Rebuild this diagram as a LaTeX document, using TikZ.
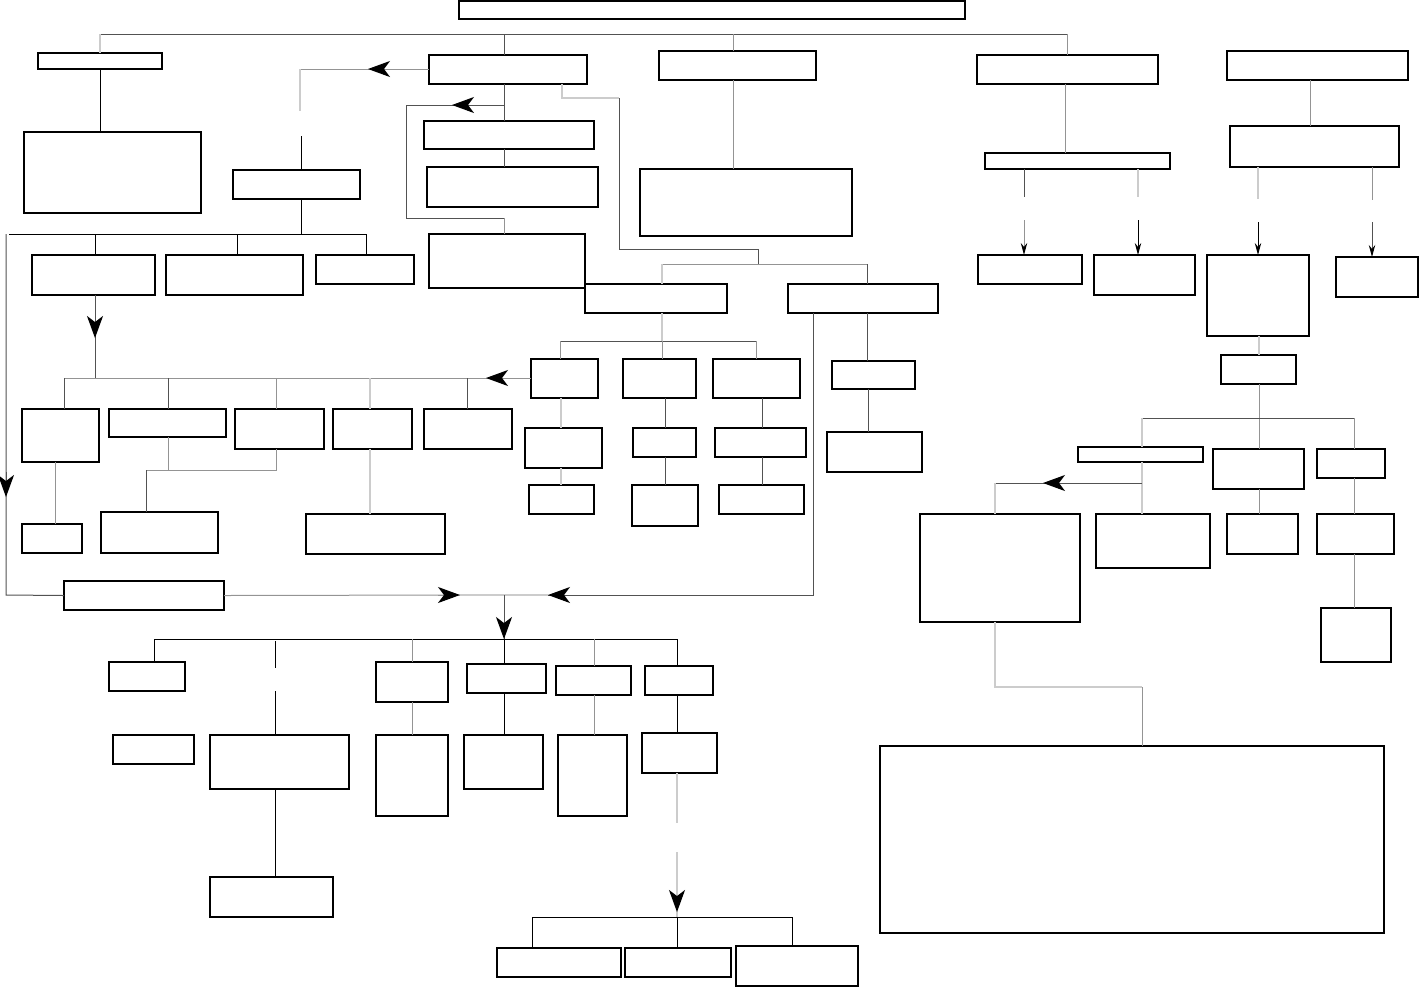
\documentclass[tikz,border=0pt]{standalone}
\usepackage{xcolor}
\usepackage{tikz}
\usetikzlibrary{arrows.meta}

% one empty box, given by its corners in picture units
\newcommand\bx[5]{\node[box, minimum width={(#4-#2)*0.5pt}, minimum height={(#5-#3)*0.5pt}] (#1) at ({(#2+#4)/2},{(#3+#5)/2}) {};}

\begin{document}
\begin{tikzpicture}[x=0.5pt, y=-0.5pt,
  box/.style={draw=black, line width=0.6pt, inner sep=0pt, outer sep=0pt},
  bk/.style={draw=black, line width=0.5pt},
  dk/.style={draw=black!68, line width=0.5pt},
  md/.style={draw=black!42, line width=0.5pt},
  lt/.style={draw=black!20, line width=0.6pt},
  bigarr/.style={-{Stealth[length=11pt,width=8pt,inset=3pt,color=black]}},
  smallarr/.style={-{Stealth[length=6pt,width=3.2pt,color=black]}}]
\useasboundingbox (0,0) rectangle (1419,987);

% boxes
\bx{T}{459}{1}{965}{19}
\bx{A}{38}{53}{162}{69}
\bx{A1}{24}{132}{201}{213}
\bx{B}{429}{55}{587}{84}
\bx{B1}{424}{121}{594}{149}
\bx{B2}{427}{167}{598}{207}
\bx{B3}{429}{234}{585}{288}
\bx{C}{659}{51}{816}{80}
\bx{C1}{640}{169}{852}{236}
\bx{D}{977}{55}{1158}{84}
\bx{D1}{985}{153}{1170}{169}
\bx{D2}{978}{255}{1082}{284}
\bx{D3}{1094}{255}{1195}{295}
\bx{E}{1227}{51}{1408}{80}
\bx{E1}{1230}{126}{1399}{167}
\bx{E2}{1207}{255}{1309}{336}
\bx{E3}{1336}{257}{1418}{297}
\bx{E4}{1221}{355}{1296}{384}
\bx{E5}{1078}{447}{1203}{462}
\bx{E6}{1213}{449}{1304}{489}
\bx{E7}{1317}{449}{1385}{478}
\bx{E5a}{920}{514}{1080}{622}
\bx{E5b}{1096}{514}{1210}{568}
\bx{E6a}{1227}{514}{1298}{554}
\bx{E7a}{1317}{514}{1394}{554}
\bx{E7b}{1321}{608}{1391}{662}
\bx{L}{880}{746}{1384}{933}
\bx{F}{233}{170}{360}{199}
\bx{F1}{32}{255}{155}{295}
\bx{F2}{166}{255}{303}{295}
\bx{F3}{316}{255}{414}{284}
\bx{G1}{585}{284}{727}{313}
\bx{G2}{788}{284}{938}{313}
\bx{H1}{531}{359}{598}{398}
\bx{H2}{623}{359}{696}{398}
\bx{H3}{713}{359}{800}{398}
\bx{H1a}{525}{428}{602}{468}
\bx{H1b}{529}{485}{594}{514}
\bx{H2a}{633}{428}{696}{457}
\bx{H2b}{632}{485}{698}{526}
\bx{H3a}{715}{428}{806}{457}
\bx{H3b}{719}{485}{804}{514}
\bx{G2a}{832}{361}{915}{389}
\bx{G2b}{827}{432}{922}{472}
\bx{I1}{22}{409}{99}{462}
\bx{I2}{109}{409}{226}{437}
\bx{I3}{235}{409}{324}{449}
\bx{I4}{333}{409}{412}{449}
\bx{I5}{424}{409}{512}{449}
\bx{I1a}{22}{524}{82}{553}
\bx{I2a}{101}{512}{218}{553}
\bx{I4a}{306}{514}{445}{554}
\bx{K}{64}{581}{224}{610}
\bx{J1}{109}{662}{185}{691}
\bx{J0}{113}{735}{194}{764}
\bx{J2}{210}{735}{349}{789}
\bx{J2a}{210}{877}{333}{917}
\bx{J3}{376}{662}{448}{702}
\bx{J3a}{376}{735}{448}{816}
\bx{J4}{467}{664}{546}{693}
\bx{J4a}{464}{735}{543}{789}
\bx{J5}{556}{666}{631}{695}
\bx{J5a}{558}{735}{627}{816}
\bx{J6}{645}{666}{713}{695}
\bx{J6a}{642}{733}{717}{773}
\bx{K1}{497}{948}{621}{977}
\bx{K2}{625}{948}{731}{977}
\bx{K3}{736}{946}{858}{986}

% top level
\draw[dk] (A.north |- 0,34) -- (D.north |- 0,34);
\draw[lt] (A.north |- 0,34) -- (A.north);
\draw[dk] (504,34) -- (B.north -| 504,0);
\draw[md] (733,34) -- (C.north -| 733,0);
\draw[md] (D.north |- 0,34) -- (D.north);
\draw[bk] (A.south) -- (A.south |- A1.north);

% left branch of B
\draw[md] (B.west |- 0,69) -- (300,69);
\draw[lt] (300,69) -- (300,111);
\draw[bigarr, md] (392,69) -- (368,69);
\draw[bk] (301,136) -- (F.north -| 301,0);
\draw[bk] (F.south -| 301,0) -- (301,234);
\draw[bk] (9,234) -- (366,234);
\draw[bk] (95,234) -- (F1.north -| 95,0);
\draw[bk] (237,234) -- (F2.north -| 237,0);
\draw[bk] (366,234) -- (F3.north -| 366,0);
\draw[dk] (6,234) -- (6,595) -- (K.west);
\draw[bigarr, dk] (6,472) -- (6,497);
\draw[dk] (F1.south -| 95,0) -- (95,378);
\draw[bigarr, dk] (95,314) -- (95,338);

% row under H1
\draw[md] (H1.west |- 0,378) -- (64,378);
\draw[bigarr, md] (510,378) -- (486,378);
\draw[dk] (64,378) -- (I1.north -| 64,0);
\draw[dk] (168,378) -- (I2.north -| 168,0);
\draw[md] (276,378) -- (I3.north -| 276,0);
\draw[lt] (370,378) -- (I4.north -| 370,0);
\draw[dk] (467,378) -- (I5.north -| 467,0);
\draw[md] (I1.south -| 55,0) -- (I1a.north -| 55,0);
\draw[md] (I2.south -| 168,0) -- (168,470);
\draw[md] (I3.south -| 276,0) -- (276,470) -- (146,470);
\draw[dk] (146,470) -- (I2a.north -| 146,0);
\draw[lt] (I4.south -| 370,0) -- (I4a.north -| 370,0);

% B downwards
\draw[dk] (B.south -| 504,0) -- (B1.north -| 504,0);
\draw[dk] (B1.south -| 504,0) -- (B2.north -| 504,0);
\draw[dk] (504,105) -- (406,105) -- (406,218) -- (504,218);
\draw[md] (504,218) -- (B3.north -| 504,0);
\draw[bigarr, dk] (476,105) -- (452,105);

% B to G1 and G2
\draw[lt] (B.south -| 562,0) -- (562,98) -- (619,98);
\draw[dk] (619,98) -- (619,249) -- (758,249) -- (758,264);
\draw[md] (662,264) -- (867,264);
\draw[lt] (662,264) -- (G1.north -| 662,0);
\draw[dk] (867,264) -- (G2.north -| 867,0);

% C
\draw[md] (C.south -| 733,0) -- (C1.north -| 733,0);

% G1 children
\draw[lt] (G1.south -| 662,0) -- (662,341);
\draw[dk] (560,341) -- (756,341);
\draw[md] (560,341) -- (H1.north -| 560,0);
\draw[md] (662,341) -- (H2.north -| 662,0);
\draw[md] (756,341) -- (H3.north -| 756,0);
\draw[lt] (H1.south -| 561,0) -- (H1a.north -| 561,0);
\draw[lt] (H1a.south -| 561,0) -- (H1b.north -| 561,0);
\draw[dk] (H2.south -| 665,0) -- (H2a.north -| 665,0);
\draw[dk] (H2a.south -| 665,0) -- (H2b.north -| 665,0);
\draw[dk] (H3.south -| 762,0) -- (H3a.north -| 762,0);
\draw[dk] (H3a.south -| 762,0) -- (H3b.north -| 762,0);

% G2 children
\draw[dk] (G2.south -| 867,0) -- (G2a.north -| 867,0);
\draw[dk] (G2a.south -| 868,0) -- (G2b.north -| 868,0);
\draw[dk] (G2.south -| 813,0) -- (813,595) -- (548,595);
\draw[bigarr, dk] (572,595) -- (548,595);

% joining line
\draw[md] (K.east) -- (460,595);
\draw[bigarr, md] (438,595) -- (460,595);
\draw[lt] (460,595) -- (548,595);
\draw[dk] (504,595) -- (504,639);
\draw[bigarr, dk] (504,615) -- (504,639);

% bottom row
\draw[bk] (154,639) -- (677,639);
\draw[bk] (154,639) -- (J1.north -| 154,0);
\draw[bk] (275,641) -- (275,668);
\draw[bk] (275,691) -- (J2.north -| 275,0);
\draw[md] (412,639) -- (J3.north);
\draw[bk] (504,639) -- (J4.north -| 504,0);
\draw[md] (594,639) -- (J5.north -| 594,0);
\draw[bk] (677,639) -- (J6.north -| 677,0);
\draw[bk] (J2.south -| 275,0) -- (J2a.north -| 275,0);
\draw[md] (J3.south) -- (J3a.north);
\draw[bk] (J4.south -| 504,0) -- (J4a.north -| 504,0);
\draw[md] (J5.south -| 594,0) -- (J5a.north -| 594,0);
\draw[bk] (J6.south -| 677,0) -- (J6a.north -| 677,0);
\draw[lt] (J6a.south -| 677,0) -- (677,823);
\draw[lt] (677,852) -- (677,917);
\draw[bigarr, lt] (677,888) -- (677,912);
\draw[bk] (532,917) -- (792,917);
\draw[bk] (532,917) -- (K1.north -| 532,0);
\draw[bk] (677,917) -- (K2.north -| 677,0);
\draw[bk] (792,917) -- (K3.north -| 792,0);

% D
\draw[md] (D.south -| 1065,0) -- (D1.north -| 1065,0);
\draw[dk] (D1.south -| 1024,0) -- (1024,197);
\draw[smallarr, md] (1024,220) -- (D2.north -| 1024,0);
\draw[lt] (D1.south -| 1138,0) -- (1138,197);
\draw[smallarr, bk] (1138,220) -- (D3.north -| 1138,0);

% E
\draw[md] (E.south -| 1310,0) -- (E1.north -| 1310,0);
\draw[lt] (E1.south -| 1258,0) -- (1258,199);
\draw[smallarr, bk] (1258,222) -- (E2.north -| 1258,0);
\draw[md] (E1.south -| 1372,0) -- (1372,200);
\draw[smallarr, dk] (1372,222) -- (E3.north -| 1372,0);
\draw[lt] (E2.south -| 1259,0) -- (E4.north -| 1259,0);
\draw[md] (E4.south -| 1259,0) -- (E6.north -| 1259,0);
\draw[dk] (1142,418) -- (1354,418);
\draw[lt] (1142,418) -- (E5.north -| 1142,0);
\draw[md] (1354,418) -- (E7.north -| 1354,0);
\draw[lt] (E5.south -| 1142,0) -- (E5b.north -| 1142,0);
\draw[dk] (1142,483) -- (995,483);
\draw[lt] (995,483) -- (E5a.north -| 995,0);
\draw[bigarr, dk] (1067,483) -- (1043,483);
\draw[md] (E6.south -| 1259,0) -- (E6a.north -| 1259,0);
\draw[md] (E7.south -| 1354,0) -- (E7a.north -| 1354,0);
\draw[md] (E7a.south -| 1354,0) -- (E7b.north -| 1354,0);
\draw[lt] (E5a.south -| 995,0) -- (995,687) -- (1142,687);
\draw[md] (1142,687) -- (L.north -| 1142,0);
\end{tikzpicture}
\end{document}
